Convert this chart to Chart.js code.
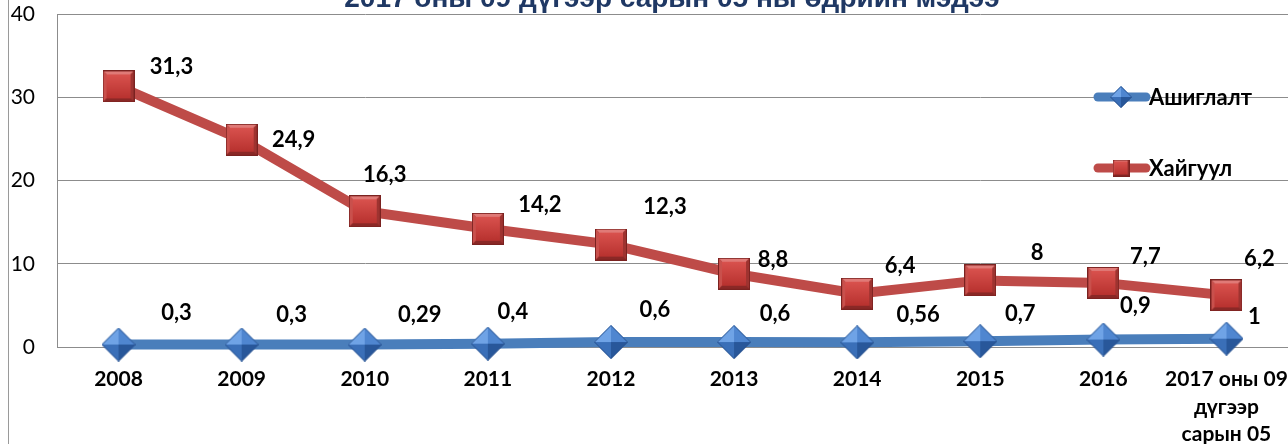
<!DOCTYPE html>
<html>
<head>
<meta charset="utf-8">
<script src="https://cdn.jsdelivr.net/npm/chart.js@4"></script>
<style>
  html, body { margin: 0; padding: 0; background: #fff; }
  #wrap { width: 1288px; height: 444px; }
</style>
</head>
<body>
<div id="wrap"><canvas id="miningChart" width="1288" height="444"></canvas></div>
<script>
// Data
const years = ["2008", "2009", "2010", "2011", "2012", "2013", "2014", "2015", "2016", ["2017 оны 09", "дүгээр", "сарын 05"]];
const usageValues = [0.3, 0.3, 0.29, 0.4, 0.6, 0.6, 0.56, 0.7, 0.9, 1];       // Ашиглалт
const explorationValues = [31.3, 24.9, 16.3, 14.2, 12.3, 8.8, 6.4, 8, 7.7, 6.2]; // Хайгуул
const usageLabels = ["0,3", "0,3", "0,29", "0,4", "0,6", "0,6", "0,56", "0,7", "0,9", "1"];
const explorationLabels = ["31,3", "24,9", "16,3", "14,2", "12,3", "8,8", "6,4", "8", "7,7", "6,2"];
const yTicks = [0, 10, 20, 30, 40];

// where each value label sits relative to its marker (px)
const usageOffsets = [[58, -32], [50, -30], [55, -30], [25, -32], [44, -32], [41, -28], [61, -27], [40, -27], [32, -34], [28, -22]];
const explorationOffsets = [[53, -20], [52, 0], [20, -36], [52, -24], [54, -38], [39, -14], [43, -28], [57, -27], [42, -26], [33, -36]];

const BLUE = '#4A7EBB';
const RED = '#BE4B48';
const PLOT_RIGHT = 1288;

// bevelled marker images
function squareMarker(size) {
    const c = document.createElement('canvas');
    c.width = size; c.height = size;
    const g = c.getContext('2d');
    const b = Math.round(size * 0.14);
    g.fillStyle = '#8c2a27';
    g.fillRect(0, 0, size, size);
    // bevel faces
    g.fillStyle = '#e07a77';
    g.beginPath(); g.moveTo(0, 0); g.lineTo(size, 0); g.lineTo(size - b, b); g.lineTo(b, b); g.closePath(); g.fill();
    g.fillStyle = '#c9504c';
    g.beginPath(); g.moveTo(0, 0); g.lineTo(b, b); g.lineTo(b, size - b); g.lineTo(0, size); g.closePath(); g.fill();
    g.fillStyle = '#9e3330';
    g.beginPath(); g.moveTo(size, 0); g.lineTo(size, size); g.lineTo(size - b, size - b); g.lineTo(size - b, b); g.closePath(); g.fill();
    g.fillStyle = '#8a2826';
    g.beginPath(); g.moveTo(0, size); g.lineTo(b, size - b); g.lineTo(size - b, size - b); g.lineTo(size, size); g.closePath(); g.fill();
    const grd = g.createLinearGradient(0, b, 0, size - b);
    grd.addColorStop(0, '#d9524e');
    grd.addColorStop(1, '#b8322f');
    g.fillStyle = grd;
    g.fillRect(b, b, size - 2 * b, size - 2 * b);
    g.strokeStyle = '#7a2220';
    g.lineWidth = 1;
    g.strokeRect(0.5, 0.5, size - 1, size - 1);
    return c;
}

function diamondMarker(size) {
    const c = document.createElement('canvas');
    c.width = size; c.height = size;
    const g = c.getContext('2d');
    const h = size / 2;
    const faces = [
        [[h, 0], [0, h], '#6fa3e6'],
        [[h, 0], [size, h], '#4f86d0'],
        [[0, h], [h, size], '#3a6fb8'],
        [[size, h], [h, size], '#28579a']
    ];
    faces.forEach(f => {
        g.fillStyle = f[2];
        g.beginPath(); g.moveTo(h, h); g.lineTo(f[0][0], f[0][1]); g.lineTo(f[1][0], f[1][1]); g.closePath(); g.fill();
    });
    g.strokeStyle = '#2a5590';
    g.lineWidth = 1;
    g.beginPath(); g.moveTo(h, 0.5); g.lineTo(size - 0.5, h); g.lineTo(h, size - 0.5); g.lineTo(0.5, h); g.closePath(); g.stroke();
    return c;
}

const redSquare = squareMarker(32);
const blueDiamond = diamondMarker(34);
const redSquareSmall = squareMarker(17);
const blueDiamondSmall = diamondMarker(22);

const LABEL_FONT = 'bold 22px Lato';

// stretch the plot to the right edge of the canvas, like the original
const stretchRight = {
    id: 'stretchRight',
    afterLayout(chart) {
        const area = chart.chartArea;
        area.right = PLOT_RIGHT;
        area.width = area.right - area.left;
        const x = chart.scales.x;
        x.right = PLOT_RIGHT;
        x.width = x.right - x.left;
        x.configure();
        const y = chart.scales.y;
        y.configure();
    }
};

// value labels, legend, title and frame line
const decorations = {
    id: 'decorations',
    beforeDraw(chart) {
        const c = chart.ctx;
        c.save();
        c.strokeStyle = '#9a9a9a';
        c.lineWidth = 1;
        c.beginPath(); c.moveTo(8.5, 0); c.lineTo(8.5, 444); c.stroke();
        c.restore();
    },
    afterDatasetsDraw(chart) {
        const c = chart.ctx;
        c.save();
        c.font = LABEL_FONT;
        c.fillStyle = '#000';
        c.textAlign = 'center';
        c.textBaseline = 'middle';
        const sets = [[0, usageLabels, usageOffsets], [1, explorationLabels, explorationOffsets]];
        sets.forEach(([i, labels, offs]) => {
            chart.getDatasetMeta(i).data.forEach((pt, j) => {
                c.fillText(labels[j], pt.x + offs[j][0], pt.y + offs[j][1]);
            });
        });

        // legend
        const items = [
            [97, BLUE, blueDiamondSmall, 'Ашиглалт'],
            [168, RED, redSquareSmall, 'Хайгуул']
        ];
        items.forEach(([y, col, img, txt]) => {
            c.strokeStyle = col;
            c.lineWidth = 9;
            c.lineCap = 'round';
            c.beginPath(); c.moveTo(1098, y); c.lineTo(1146, y); c.stroke();
            c.drawImage(img, 1121 - img.width / 2, y - img.height / 2);
            c.font = 'bold 22px Lato';
            c.textAlign = 'left';
            c.fillStyle = '#000';
            c.fillText(txt, 1149, y + 1);
        });

        // title (cut off at the top edge)
        c.font = 'bold 28px "Liberation Sans"';
        c.fillStyle = '#1F3864';
        c.textAlign = 'center';
        c.textBaseline = 'alphabetic';
        c.fillText('2017 оны 09 дүгээр сарын 05 ны өдрийн мэдээ', 672, 7);
        c.restore();
    }
};

const ctx = document.getElementById('miningChart').getContext('2d');

const config = {
    type: 'line',
    data: {
        labels: years,
        datasets: [{
            label: 'Ашиглалт',
            data: usageValues,
            borderColor: BLUE,
            borderWidth: 10,
            pointStyle: blueDiamond,
            clip: false,
            tension: 0
        }, {
            label: 'Хайгуул',
            data: explorationValues,
            borderColor: RED,
            borderWidth: 10,
            pointStyle: redSquare,
            clip: false,
            tension: 0
        }]
    },
    options: {
        responsive: false,
        animation: false,
        layout: { padding: { top: 13, right: 0, left: 0, bottom: 0 } },
        scales: {
            x: {
                offset: true,
                grid: { display: false, drawTicks: false },
                border: { display: false },
                ticks: {
                    color: '#000',
                    padding: 19,
                    maxRotation: 0,
                    autoSkip: false,
                    font: { family: 'Lato', size: 21, weight: 'bold', lineHeight: 1.3 }
                },
                afterFit(scale) {
                    scale.height = 97;
                    scale.paddingLeft = 0;
                    scale.paddingRight = 0;
                }
            },
            y: {
                min: 0,
                max: 40,
                afterBuildTicks(scale) { scale.ticks = yTicks.map(v => ({ value: v })); },
                grid: { color: '#8c8c8c', drawTicks: false },
                border: { color: '#8c8c8c' },
                ticks: {
                    color: '#000',
                    padding: 22,
                    font: { family: 'Lato', size: 21 }
                },
                afterFit(scale) {
                    scale.width = 57;
                    scale.paddingTop = 0;
                    scale.paddingBottom = 0;
                }
            }
        },
        plugins: {
            legend: { display: false },
            title: { display: false },
            tooltip: { enabled: false }
        }
    },
    plugins: [stretchRight, decorations]
};

const miningChart = new Chart(ctx, config);
</script>
</body>
</html>
